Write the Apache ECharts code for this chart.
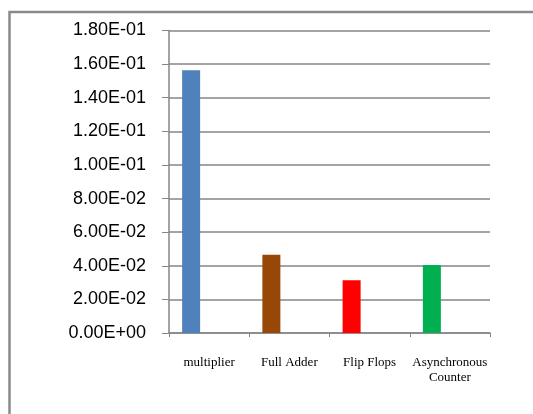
<!DOCTYPE html>
<html>
<head>
<meta charset="utf-8">
<script src="https://cdn.jsdelivr.net/npm/echarts@6/dist/echarts.min.js"></script>
<style>
  html, body { margin: 0; padding: 0; background: #fff; }
  #main { width: 533px; height: 414px; }
</style>
</head>
<body>
<div id="main"></div>
<script>
var categories = ['multiplier', 'Full Adder', 'Flip Flops', 'Asynchronous\nCounter'];
var values = [0.1563, 0.0465, 0.0314, 0.0404];
var barColors = ['#4F81BD', '#974806', '#FF0000', '#00B050'];

// excel style label: 1.80E-01
function sciLabel(v) {
    if (v === 0) return '0.00E+00';
    var s = v.toExponential(2).split('e');
    var exp = parseInt(s[1], 10);
    var sign = exp < 0 ? '-' : '+';
    var e = Math.abs(exp);
    return s[0] + 'E' + sign + (e < 10 ? '0' + e : e);
}

var chart = echarts.init(document.getElementById('main'));
var option = {
    animation: false,
    graphic: [{
        type: 'rect',
        shape: { x: 9.5, y: 12, width: 600, height: 500 },
        style: { fill: 'none', stroke: '#8a8a8a', lineWidth: 2.5 },
        silent: true
    }],
    grid: { left: 169, right: 43, top: 30.5, bottom: 81, containLabel: false },
    xAxis: {
        type: 'category',
        data: categories,
        axisLine: { lineStyle: { color: '#868686', width: 1.5 } },
        axisTick: { show: true, length: 4, alignWithLabel: false, lineStyle: { color: '#868686' } },
        axisLabel: {
            color: '#000',
            fontFamily: 'Liberation Serif',
            fontSize: 13,
            lineHeight: 15,
            margin: 22,
            interval: 0
        }
    },
    yAxis: {
        type: 'value',
        min: 0,
        max: 0.18,
        interval: 0.02,
        axisLine: { show: true, lineStyle: { color: '#868686', width: 1.5 } },
        axisTick: { show: true, length: 7, inside: false, lineStyle: { color: '#868686' } },
        splitLine: { lineStyle: { color: '#868686', width: 1.5 } },
        axisLabel: {
            color: '#000',
            fontFamily: 'Liberation Sans',
            fontSize: 18,
            margin: 23,
            formatter: sciLabel
        }
    },
    series: [{
        type: 'bar',
        data: values.map(function (v, i) {
            return { value: v, itemStyle: { color: barColors[i] } };
        }),
        barWidth: 18,
        barGap: '0%'
    }, {
        type: 'bar',
        data: [],
        barWidth: 18
    }, {
        type: 'bar',
        data: [],
        barWidth: 18
    }]
};
chart.setOption(option);
</script>
</body>
</html>
